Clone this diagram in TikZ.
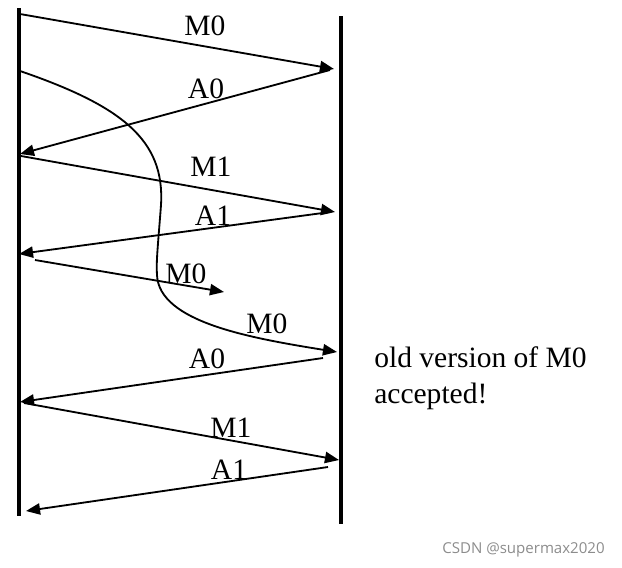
\documentclass[tikz,border=0pt]{standalone}
\usepackage{fontspec}
\setmainfont{Liberation Serif}
\newfontfamily\marksans{Open Sans}
\usetikzlibrary{positioning, arrows.meta}

\begin{document}
\begin{tikzpicture}[x=0.025cm, y=-0.025cm,
  lifeline/.style={line width=2.3pt},
  msg/.style={line width=1.3pt, -{Triangle[length=10pt,width=8pt]}},
  lbl/.style={font=\fontsize{21}{25}\selectfont, inner sep=0pt, anchor=base}]
\useasboundingbox (0,0) rectangle (622,567);

% the two ends
\draw[lifeline] (19,8) -- (19,516);
\draw[lifeline] (341,16) -- (341,524);

% end points of the messages
\coordinate (s1) at (20,14);   \coordinate (r1) at (334,69);
\coordinate (r2) at (330,70);  \coordinate (s2) at (20,154);
\coordinate (s3) at (21,156);  \coordinate (r3) at (335,212);
\coordinate (r4) at (330,212); \coordinate (s4) at (19,254);
\coordinate (s5) at (35,260);  \coordinate (lost) at (224,292);
\coordinate (s6) at (20,71);   \coordinate (r6) at (337,352);
\coordinate (r7) at (323,358); \coordinate (s7) at (20,402);
\coordinate (s8) at (24,403);  \coordinate (r8) at (339,460);
\coordinate (r9) at (328,467); \coordinate (s9) at (26,511);

\draw[msg] (s1) -- (r1);
\draw[msg] (r2) -- (s2);
\draw[msg] (s3) -- (r3);
\draw[msg] (r4) -- (s4);
\draw[msg] (s5) -- (lost);
\draw[msg] (s6) .. controls (122,106) and (165,140) .. (161,205)
  .. controls (158,245) and (156,262) .. (157,275)
  .. controls (159,322) and (250,338) .. (r6);
\draw[msg] (r7) -- (s7);
\draw[msg] (s8) -- (r8);
\draw[msg] (r9) -- (s9);

% labels
\node[lbl] (m0a) at (205,35) {M0};
\node[lbl] (a0a) at (206,98) {A0};
\node[lbl] (m1a) at (211,176) {M1};
\node[lbl] (a1a) at (213,225) {A1};
\node[lbl] (m0b) at (186,283) {M0};
\node[lbl] (m0c) at (267,333) {M0};
\node[lbl] (a0b) at (207,368) {A0};
\node[lbl] (m1b) at (231,437) {M1};
\node[lbl] (a1b) at (229,479) {A1};

\node[font=\fontsize{21}{25.5}\selectfont, inner sep=0pt, anchor=base west,
  align=left] (note) at (374,403) {old version of M0\\accepted!};

\node[font=\marksans\fontsize{10.7}{13}\selectfont, text=black!45, inner sep=0pt,
  anchor=base west] (mark) at (442,553) {CSDN @supermax2020};
\end{tikzpicture}
\end{document}
